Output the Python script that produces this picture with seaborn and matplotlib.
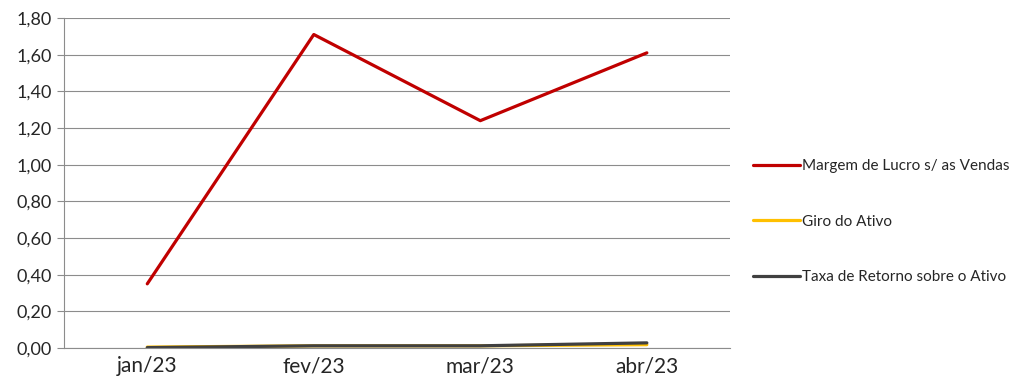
import matplotlib
matplotlib.use("Agg")
import matplotlib.pyplot as plt
import seaborn as sns
import pandas as pd
from matplotlib.ticker import FuncFormatter, MultipleLocator

# data
months = ["jan/23", "fev/23", "mar/23", "abr/23"]
margem = [0.35, 1.71, 1.24, 1.61]
giro = [0.005, 0.012, 0.012, 0.018]
taxa = [0.002, 0.012, 0.012, 0.028]

series_names = ["Margem de Lucro s/ as Vendas", "Giro do Ativo", "Taxa de Retorno sobre o Ativo"]
colors = ["#C00000", "#FFC000", "#404040"]

df = pd.DataFrame({"mes": months * 3,
                   "valor": margem + giro + taxa,
                   "serie": [series_names[0]] * 4 + [series_names[1]] * 4 + [series_names[2]] * 4})

sns.set_style("white")
plt.rcParams['font.family'] = ['Lato', 'DejaVu Sans']

fig = plt.figure(figsize=(10.24, 3.89), dpi=100)
ax = fig.add_axes([0.0625, 0.1054, 0.6505, 0.8483])

sns.lineplot(data=df, x="mes", y="valor", hue="serie", palette=colors, linewidth=2.3, ax=ax, sort=False)

ax.set_xlim(-0.5, 3.5)
ax.set_ylim(0, 1.8)
ax.yaxis.set_major_locator(MultipleLocator(0.2))
ax.yaxis.set_major_formatter(FuncFormatter(lambda v, p: f"{v:.2f}".replace(".", ",")))
ax.grid(True, axis="y", color="#8c8c8c", linewidth=0.8)
ax.set_axisbelow(True)
for s in ["top", "right"]:
    ax.spines[s].set_visible(False)
ax.spines["left"].set_color("#8c8c8c")
ax.spines["bottom"].set_color("#8c8c8c")
ax.set_xticks(range(len(months)))
ax.set_xticklabels(months, fontsize=15)
ax.set_xticks([0.5, 1.5, 2.5, 3.5], minor=True)
ax.tick_params(axis="x", which="major", length=0, pad=6)
ax.tick_params(axis="x", which="minor", length=5, color="#8c8c8c", direction="out")
ax.tick_params(axis="y", length=5, color="#8c8c8c", direction="out", labelsize=13, left=True, pad=4)
ax.set_xlabel("")
ax.set_ylabel("")

ax.legend(loc="center left", bbox_to_anchor=(0.722, 0.43), bbox_transform=fig.transFigure,
          frameon=False, fontsize=11, handlelength=3.1, handletextpad=0.1, labelspacing=2.7)

fig.savefig("out.png", dpi=100)
